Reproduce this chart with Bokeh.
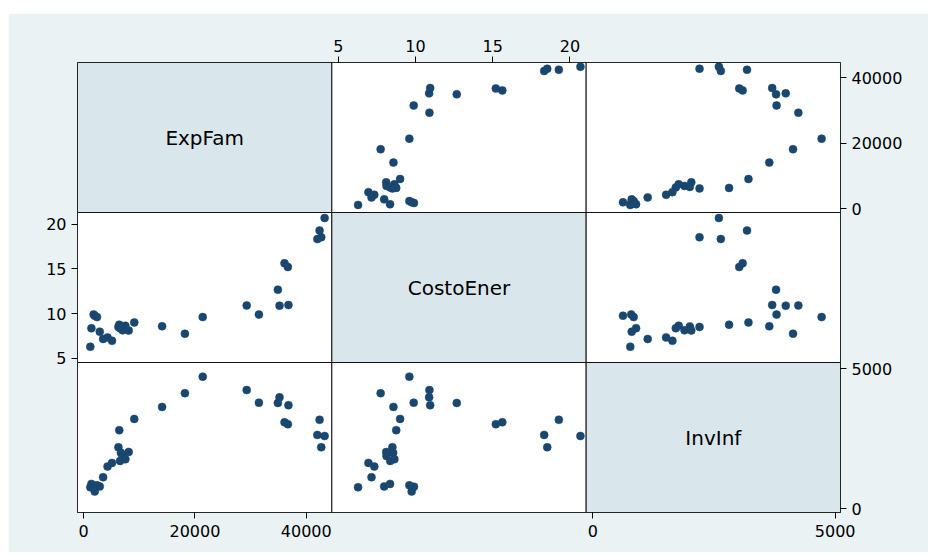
from bokeh.plotting import figure
from bokeh.models import Range1d, LinearAxis, FixedTicker, ColumnDataSource, Spacer
from bokeh.layouts import column, row
from bokeh.core.properties import value
from bokeh.embed import file_html
from bokeh.resources import INLINE

# ---- data ----
var_names = ["ExpFam", "CostoEner", "InvInf"]
exp_fam = [43300, 42400, 42000, 42700, 36100, 36700, 34900, 35200, 36800, 29300,
           31500, 21400, 18200, 14100, 9100, 6400, 6250, 8100, 6700, 7000,
           7500, 6550, 5100, 4300, 3500, 1200, 2900, 1400, 2000, 1800, 2400]
costo_ener = [20.68, 19.28, 18.33, 18.53, 15.62, 15.20, 12.67, 10.88, 10.95, 10.90,
              9.88, 9.60, 7.74, 8.57, 9.00, 8.75, 8.50, 8.10, 8.55, 8.12,
              8.63, 8.36, 6.95, 7.33, 7.15, 6.28, 7.97, 8.35, 9.75, 9.90, 9.60]
inv_inf = [2600, 3180, 2640, 2200, 3090, 3020, 3780, 3980, 3700, 4240,
           3790, 4720, 4130, 3640, 3210, 2810, 2200, 2030, 2000, 1890,
           1770, 1710, 1640, 1510, 1130, 770, 800, 890, 620, 790, 840]
ticks_exp = [0, 20000, 40000]
ticks_costo = [5, 10, 15, 20]
ticks_inv = [0, 5000]

data = [exp_fam, costo_ener, inv_inf]
ticks = [ticks_exp, ticks_costo, ticks_inv]

# axis extents of each variable (as drawn in the reference)
x_ext = [(-1100, 44600), (4.58, 21.05), (-140, 5110)]
y_ext = [(-1100, 44600), (4.52, 21.3), (-130, 5225)]

BG = "#EAF2F3"
DIAG = "#D9E6EB"
DOT = "#1A476F"
FONT = "DejaVu Sans"
N = 3

p = figure(width=920, height=539, x_range=Range1d(0, N), y_range=Range1d(0, N),
           x_axis_location=None, y_axis_location=None,
           toolbar_location=None, output_backend="svg",
           min_border=0, min_border_left=69, min_border_right=88,
           min_border_top=49, min_border_bottom=40)
p.border_fill_color = BG
p.background_fill_color = "white"
p.outline_line_color = "black"
p.xgrid.visible = False
p.ygrid.visible = False

# cell panels
cells = dict(left=[], right=[], bottom=[], top=[], color=[])
for r in range(N):
    for c in range(N):
        cells["left"].append(c)
        cells["right"].append(c + 1)
        cells["bottom"].append(N - 1 - r)
        cells["top"].append(N - r)
        cells["color"].append(DIAG if r == c else "white")
p.quad(left="left", right="right", bottom="bottom", top="top", fill_color="color",
       line_color="#111111", line_width=1, source=ColumnDataSource(cells))

# diagonal names
p.text(x=[i + 0.5 for i in range(N)], y=[N - i - 0.5 for i in range(N)], text=var_names,
       text_align="center", text_baseline="middle", text_font=value(FONT),
       text_font_size=value("20px"), text_color="black")

# scatter cells through sub-coordinates
for r in range(N):
    for c in range(N):
        if r == c:
            continue
        sub = p.subplot(x_source=Range1d(*x_ext[c]), y_source=Range1d(*y_ext[r]),
                        x_target=Range1d(c, c + 1), y_target=Range1d(N - 1 - r, N - r))
        src = ColumnDataSource(dict(x=data[c], y=data[r]))
        sub.scatter(x="x", y="y", source=src, size=8, fill_color=DOT,
                    line_color=DOT, line_width=0.5)


def col_pos(var, c, v):
    s, e = x_ext[var]
    return c + (v - s) / (e - s)


def row_pos(var, r, v):
    s, e = y_ext[var]
    return (N - 1 - r) + (v - s) / (e - s)


def make_axis(pairs):
    locs = [pos for pos, _ in pairs]
    ax = LinearAxis(
        ticker=FixedTicker(ticks=locs),
        major_label_overrides={pos: lab for pos, lab in pairs},
        major_label_text_font=FONT,
        major_label_text_font_size="16px",
        major_label_text_color="black",
        major_tick_out=6, major_tick_in=0,
        major_tick_line_color="black",
        minor_tick_line_color=None,
        axis_line_color=None,
        major_label_standoff=5,
    )
    return ax


# top: CostoEner over column 2
top_pairs = [(col_pos(1, 1, t), str(t)) for t in ticks_costo]
# bottom: ExpFam under column 1, InvInf under column 3
bottom_pairs = [(col_pos(0, 0, t), str(t)) for t in ticks_exp] + \
               [(col_pos(2, 2, t), str(t)) for t in ticks_inv]
# left: CostoEner beside row 2
left_pairs = [(row_pos(1, 1, t), str(t)) for t in ticks_costo]
# right: ExpFam beside row 1, InvInf beside row 3
right_pairs = [(row_pos(0, 0, t), str(t)) for t in ticks_exp] + \
              [(row_pos(2, 2, t), str(t)) for t in ticks_inv]

p.add_layout(make_axis(top_pairs), "above")
bax = make_axis(bottom_pairs)
bax.major_label_standoff = 6
p.add_layout(bax, "below")
p.add_layout(make_axis(left_pairs), "left")
p.add_layout(make_axis(right_pairs), "right")

layout = column(Spacer(width=928, height=13), row(Spacer(width=8, height=539), p))

open("out.html", "w").write(file_html(layout, INLINE))
